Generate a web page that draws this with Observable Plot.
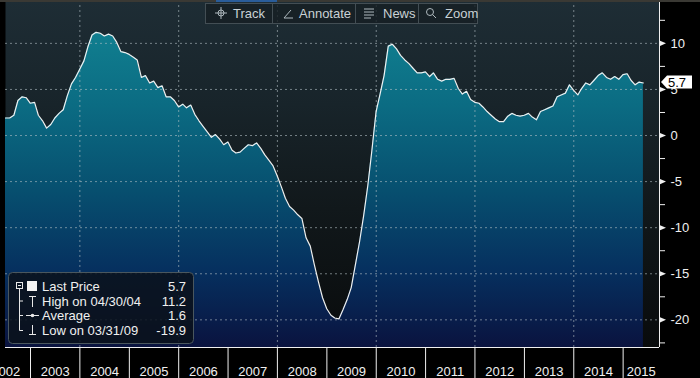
<!DOCTYPE html>
<html><head><meta charset="utf-8">
<script src="https://cdn.jsdelivr.net/npm/d3@7"></script>
<script src="https://cdn.jsdelivr.net/npm/@observablehq/plot@0.6"></script>
<style>
html,body{margin:0;padding:0;background:#000;}
#wrap{position:relative;width:700px;height:378px;overflow:hidden;background:#000;font-family:"Liberation Sans",Arial,sans-serif;}
#topstrip{position:absolute;left:0;top:0;width:700px;height:2px;background:#3a3934;}
#topstrip .blue{position:absolute;left:216px;top:0;width:61px;height:2px;background:#2a5d9a;}
#toolbar{position:absolute;left:205px;top:3px;width:273px;height:21px;background:rgba(22,30,35,0.82);border:1px solid #434e54;box-sizing:border-box;color:#c9d1d5;font-size:13px;}
#toolbar .t{position:absolute;top:2px;line-height:15px;}
#toolbar .sep{position:absolute;top:0;width:1px;height:19px;background:#434e54;}
#toolbar svg{position:absolute;top:3px;}
#legend{position:absolute;left:8px;top:272px;}
#lastbox{position:absolute;}
</style></head>
<body>
<div id="wrap">
  <div id="chart"></div>
  <div id="topstrip"><div class="blue"></div></div>
  <div id="toolbar">
    <svg style="left:9px" width="12" height="12"><g stroke="#aeb8bd" fill="none"><circle cx="6" cy="6" r="3"/><line x1="6" y1="0" x2="6" y2="12"/><line x1="0" y1="6" x2="12" y2="6"/></g></svg>
    <span class="t" style="left:27px">Track</span>
    <div class="sep" style="left:66px"></div>
    <svg style="left:76px" width="12" height="12"><g stroke="#aeb8bd" fill="none"><polyline points="2,11 11,11"/><polyline points="2,11 9,3"/></g></svg>
    <span class="t" style="left:93px">Annotate</span>
    <div class="sep" style="left:149px"></div>
    <svg style="left:157px" width="12" height="12"><g stroke="#aeb8bd"><line x1="1" y1="2" x2="11" y2="2"/><line x1="1" y1="5" x2="11" y2="5"/><line x1="1" y1="8" x2="11" y2="8"/><line x1="1" y1="11" x2="8" y2="11"/></g></svg>
    <span class="t" style="left:177px">News</span>
    <div class="sep" style="left:212px"></div>
    <svg style="left:219px" width="12" height="12"><g stroke="#aeb8bd" fill="none"><circle cx="5" cy="5" r="3.5"/><line x1="7.5" y1="7.5" x2="11" y2="11"/></g></svg>
    <span class="t" style="left:239px">Zoom</span>
  </div>
  <div id="legend"></div>
  <svg id="lastbox" width="40" height="16"></svg>
</div>
<script>
// ---- data ----
const firstYear = 2002, firstMonth = 6; // month-end values starting June 2002
const values = [
  1.9,1.9,2.2,3.8,4.2,4.1,3.5,3.6,2.2,1.6,
  0.8,1.2,1.9,2.4,2.8,4.3,5.6,6.3,7.2,8.1,
  9.6,10.9,11.2,11.1,10.8,11.0,10.8,10.1,9.1,9.0,
  8.8,8.5,8.2,6.3,6.5,5.7,5.9,5.2,5.4,4.2,
  4.2,3.8,3.1,3.4,3.0,3.3,2.3,1.6,1.0,0.4,
  -0.2,0.1,-0.4,-1.0,-0.7,-1.6,-1.9,-1.8,-1.4,-1.0,
  -1.1,-0.8,-1.4,-2.1,-2.7,-3.3,-4.4,-5.6,-6.8,-7.7,
  -8.1,-8.6,-9.0,-11.1,-12.0,-14.0,-15.9,-17.6,-18.8,-19.5,
  -19.8,-19.9,-18.9,-17.8,-16.5,-14.0,-11.5,-8.7,-5.4,-1.6,
  2.6,4.6,6.5,9.7,9.9,9.4,8.7,8.2,7.8,7.3,
  6.8,6.8,6.9,6.4,6.8,6.1,5.9,6.1,6.1,6.2,
  5.1,4.5,4.8,3.9,3.6,3.5,3.1,2.6,2.2,1.8,
  1.5,1.5,2.1,2.4,2.2,2.1,2.2,2.4,2.0,1.7,
  2.6,2.8,3.0,3.2,4.2,4.4,4.6,5.5,4.9,4.4,
  5.1,5.7,5.5,6.0,6.5,6.8,6.3,6.1,6.4,6.1,
  6.6,6.7,6.0,5.5,5.8,5.7
];
const majorTicks = [10, 5, 0, -5, -10, -15, -20];
const minorTicks = [12.5, 7.5, 2.5, -2.5, -7.5, -12.5, -17.5, -22.5];
const gridYears = [2004, 2006, 2008, 2010, 2012, 2014];
const years = [2002,2003,2004,2005,2006,2007,2008,2009,2010,2011,2012,2013,2014,2015];
const legendLabels = ["Last Price", "High on 04/30/04", "Average", "Low on 03/31/09"];
const legendValues = ["5.7", "11.2", "1.6", "-19.9"];
const lastPriceLabel = "5.7";

// ---- scales config ----
const xDomain = [new Date(Date.UTC(2002, 5, 30)), new Date(Date.UTC(2015, 8, 27))];
const yDomain = [-23, 14.65];

const data = values.map((v, i) => ({date: new Date(Date.UTC(firstYear, firstMonth + i, 0)), value: v}));
const gridDates = gridYears.map(y => new Date(Date.UTC(y, 0, 1)));
const yearStarts = years.slice(1).map(y => new Date(Date.UTC(y, 0, 1)));
const labelDates = years.map(y => {
  const a = Date.UTC(y, 0, 1);
  const b = Math.min(Date.UTC(y + 1, 0, 1), +xDomain[1]);
  return new Date((a + b) / 2);
});

const triRight = {draw(ctx, size) { const r = Math.sqrt(size / Math.PI); ctx.moveTo(-r, -r * 0.85); ctx.lineTo(r, 0); ctx.lineTo(-r, r * 0.85); ctx.closePath(); }};
const gridStyle = {stroke: "#b4c0c4", strokeOpacity: 0.6, strokeDasharray: "2,3"};
const fmt = d => d < 0 ? "-" + Math.abs(d) : String(d);

const plot = Plot.plot({
  width: 700, height: 378,
  marginLeft: 5, marginRight: 41, marginTop: 0, marginBottom: 31,
  x: {type: "utc", domain: xDomain, axis: null},
  y: {domain: yDomain, axis: null},
  style: {background: "#000", color: "#f0f0f0", fontFamily: "'Liberation Sans', Arial, sans-serif", fontSize: "13px"},
  marks: [
    Plot.frame({fill: "url(#bgGrad)", stroke: "none"}),
    Plot.areaY(data, {x: "date", y1: yDomain[0], y2: "value", fill: "url(#areaGrad)"}),
    Plot.ruleY(majorTicks, gridStyle),
    Plot.ruleX(gridDates, gridStyle),
    Plot.lineY(data, {x: "date", y: "value", stroke: "#eef0f0", strokeWidth: 1.2}),
    Plot.ruleX([xDomain[1]], {stroke: "#f0f0f0", strokeWidth: 1}),
    Plot.ruleY([yDomain[0]], {stroke: "#f0f0f0", strokeWidth: 1}),
    Plot.axisY(minorTicks, {anchor: "right", label: null, tickSize: 5, tickFormat: () => ""}),
    Plot.axisY(majorTicks, {anchor: "right", label: null, tickSize: 0, tickPadding: 11, tickFormat: fmt}),
    Plot.dot(majorTicks, {y: d => d, frameAnchor: "right", dx: 3.5, symbol: triRight, r: 3, fill: "#f0f0f0", stroke: "none"}),
    Plot.axisX(yearStarts, {anchor: "bottom", label: null, tickSize: 31, tickFormat: () => ""}),
    Plot.axisX(labelDates, {anchor: "bottom", label: null, tickSize: 0, tickPadding: 19, tickFormat: d3.utcFormat("%Y")})
  ]
});

// gradients
const svg = d3.select(plot);
const defs = svg.insert("defs", ":first-child");
const bg = defs.append("linearGradient").attr("id", "bgGrad").attr("gradientUnits", "userSpaceOnUse")
  .attr("x1", 0).attr("x2", 0).attr("y1", 0).attr("y2", 347);
[[0, "#1e2d35"], [0.3, "#18242a"], [0.6, "#11181b"], [1, "#090b0c"]].forEach(([o, c]) => bg.append("stop").attr("offset", o).attr("stop-color", c));
const ag = defs.append("linearGradient").attr("id", "areaGrad").attr("gradientUnits", "userSpaceOnUse")
  .attr("x1", 0).attr("x2", 0).attr("y1", 0).attr("y2", 347);
[[0, "#138795"], [0.3, "#0b6c83"], [0.55, "#074f6f"], [0.78, "#06305f"], [1, "#0a133f"]].forEach(([o, c]) => ag.append("stop").attr("offset", o).attr("stop-color", c));

document.getElementById("chart").appendChild(plot);

// last price marker (HTML overlay positioned with the plot's y scale)
const yLast = plot.scale("y").apply(values[values.length - 1]);
const xr = 700 - 41;
const lb = d3.select("#lastbox").style("left", (xr + 2) + "px").style("top", (yLast - 8) + "px");
lb.append("path").attr("d", "M0,8 L6,1.5 L31,1.5 L31,14.5 L6,14.5 Z").attr("fill", "#ffffff");
lb.append("text").attr("x", 7).attr("y", 12.8).attr("fill", "#000").attr("font-size", 13)
  .attr("font-family", "'Liberation Sans', Arial, sans-serif").text(lastPriceLabel);

// legend
const L = d3.select("#legend").append("svg").attr("width", 187).attr("height", 73);
L.append("rect").attr("x", 0.5).attr("y", 0.5).attr("width", 185).attr("height", 71).attr("rx", 4)
  .attr("fill", "rgba(10,17,27,0.86)").attr("stroke", "#4a575e");
const rowsY = [14, 29, 43.5, 58.5];
const ic = L.append("g").attr("stroke", "#e8e8e8").attr("fill", "none").attr("stroke-width", 1);
ic.append("rect").attr("x", 8.5).attr("y", 10.5).attr("width", 6).attr("height", 6);
ic.append("line").attr("x1", 10).attr("x2", 13).attr("y1", 13.5).attr("y2", 13.5);
ic.append("line").attr("x1", 11.5).attr("x2", 11.5).attr("y1", 17).attr("y2", rowsY[3]);
rowsY.slice(1).forEach(y => ic.append("line").attr("x1", 11.5).attr("x2", 15).attr("y1", y).attr("y2", y));
L.append("rect").attr("x", 19).attr("y", 9).attr("width", 10).attr("height", 10).attr("fill", "#f4f4f4");
ic.append("line").attr("x1", 24.5).attr("x2", 24.5).attr("y1", 24).attr("y2", 35);
ic.append("line").attr("x1", 21).attr("x2", 28).attr("y1", 24.5).attr("y2", 24.5);
ic.append("line").attr("x1", 18).attr("x2", 31).attr("y1", 43.5).attr("y2", 43.5);
L.append("circle").attr("cx", 24.5).attr("cy", 43.5).attr("r", 1.8).attr("fill", "#e8e8e8");
ic.append("line").attr("x1", 24.5).attr("x2", 24.5).attr("y1", 53).attr("y2", 63);
ic.append("line").attr("x1", 21).attr("x2", 28).attr("y1", 62.5).attr("y2", 62.5);
const tg = L.append("g").attr("fill", "#f0f0f0").attr("font-family", "'Liberation Sans', Arial, sans-serif").attr("font-size", 13);
legendLabels.forEach((t, i) => tg.append("text").attr("x", 34).attr("y", rowsY[i] + 4.6).text(t));
legendValues.forEach((t, i) => tg.append("text").attr("x", 178).attr("y", rowsY[i] + 4.6).attr("text-anchor", "end").text(t));
</script>
</body></html>
